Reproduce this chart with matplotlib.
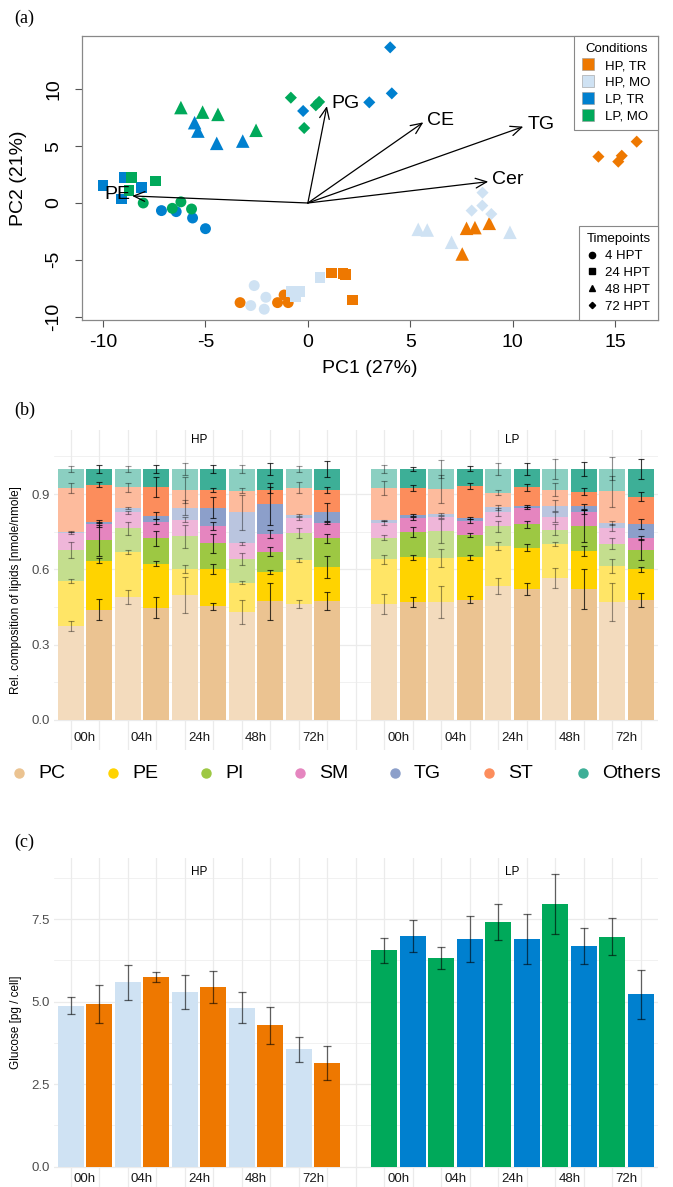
import numpy as np
import matplotlib
matplotlib.use('Agg')
import matplotlib.pyplot as plt
from matplotlib.lines import Line2D
from matplotlib.colors import to_rgb

plt.rcParams['font.family'] = ['Liberation Sans', 'DejaVu Sans']
plt.rcParams['axes.unicode_minus'] = False

W, H = 673, 1187

# ---------------- (a) PCA biplot ----------------
cond_names = ['HP, TR', 'HP, MO', 'LP, TR', 'LP, MO']
cond_colors = ['#EE7800', '#CFE2F3', '#0080CF', '#00A95A']
tp_names = ['4 HPT', '24 HPT', '48 HPT', '72 HPT']
tp_markers = ['o', 's', '^', 'D']
tp_sizes = [62, 58, 95, 38]

# one group per condition x timepoint
group_cond = ['HP, TR', 'HP, MO', 'HP, TR', 'HP, MO', 'HP, TR', 'HP, MO', 'HP, TR', 'HP, MO',
              'LP, TR', 'LP, MO', 'LP, TR', 'LP, MO', 'LP, TR', 'LP, MO', 'LP, TR', 'LP, MO']
group_tp = ['4 HPT', '4 HPT', '24 HPT', '24 HPT', '48 HPT', '48 HPT', '72 HPT', '72 HPT',
            '4 HPT', '4 HPT', '24 HPT', '24 HPT', '48 HPT', '48 HPT', '72 HPT', '72 HPT']
group_pc1 = [[-3.31, -1.48, -0.96, -1.16], [-2.62, -2.79, -2.05, -2.13],
             [1.16, 1.72, 1.85, 2.19], [-0.83, -0.42, -0.59, 0.59],
             [7.75, 8.16, 8.86, 7.54], [5.39, 5.83, 7.02, 9.87],
             [16.06, 14.19, 15.33, 15.16], [8.53, 8.52, 8.0, 8.96],
             [-7.15, -6.43, -5.63, -5.0], [-8.04, -6.2, -6.62, -5.68],
             [-10.0, -8.96, -8.12, -9.1], [-8.6, -8.74, -7.44],
             [-5.53, -5.37, -4.45, -3.18], [-6.2, -5.14, -4.39, -2.53],
             [-0.23, 4.02, 4.1, 3.0], [-0.83, 0.55, 0.39, -0.18]]
group_pc2 = [[-8.77, -8.77, -8.77, -8.1], [-7.27, -9.03, -8.3, -9.35],
             [-6.18, -6.22, -6.3, -8.53], [-7.8, -7.8, -8.24, -6.57],
             [-2.23, -2.17, -1.79, -4.49], [-2.32, -2.38, -3.46, -2.58],
             [5.4, 4.08, 4.16, 3.64], [0.91, -0.23, -0.67, -0.97],
             [-0.67, -0.76, -1.32, -2.26], [0.0, 0.1, -0.47, -0.53],
             [1.52, 2.23, 1.38, 0.35], [2.26, 1.08, 1.94],
             [7.07, 6.33, 5.25, 5.45], [8.4, 8.0, 7.8, 6.4],
             [8.1, 13.7, 9.65, 8.86], [9.27, 8.9, 8.6, 6.6]]

load_names = ['PE', 'PG', 'CE', 'TG', 'Cer']
load_pc1 = [-8.58, 0.93, 5.64, 10.52, 8.81]
load_pc2 = [0.62, 8.53, 7.10, 6.72, 1.88]

# ---------------- (b) lipid composition ----------------
lipid_classes = ['PC', 'PE', 'PI', 'SM', 'TG', 'ST', 'Others']
lipid_colors = ['#EBC391', '#FFD300', '#9DC843', '#E585BF', '#8C9FCA', '#FC8D5C', '#3DAF97']
time_labels = ['00h', '04h', '24h', '48h', '72h']

# rows = lipid class, columns = bars (00h MO, 00h TR, 04h MO, 04h TR, ...)
comp_hp = [[0.375, 0.440, 0.490, 0.447, 0.498, 0.453, 0.430, 0.472, 0.463, 0.475],
           [0.180, 0.195, 0.180, 0.176, 0.104, 0.149, 0.117, 0.117, 0.174, 0.134],
           [0.123, 0.080, 0.094, 0.101, 0.130, 0.102, 0.095, 0.081, 0.109, 0.115],
           [0.067, 0.065, 0.064, 0.066, 0.066, 0.068, 0.061, 0.071, 0.057, 0.059],
           [0.005, 0.010, 0.017, 0.024, 0.047, 0.074, 0.125, 0.118, 0.014, 0.044],
           [0.174, 0.147, 0.081, 0.115, 0.071, 0.070, 0.085, 0.058, 0.108, 0.089],
           [0.076, 0.063, 0.074, 0.071, 0.084, 0.084, 0.087, 0.083, 0.075, 0.084]]
err_hp = [[0.020, 0.043, 0.027, 0.041, 0.070, 0.013, 0.046, 0.074, 0.016, 0.036],
          [0.008, 0.011, 0.008, 0.011, 0.015, 0.021, 0.007, 0.008, 0.007, 0.044],
          [0.032, 0.060, 0.026, 0.030, 0.045, 0.037, 0.023, 0.018, 0.020, 0.018],
          [0.004, 0.010, 0.006, 0.009, 0.010, 0.016, 0.005, 0.016, 0.007, 0.004],
          [0.003, 0.005, 0.004, 0.013, 0.030, 0.042, 0.070, 0.084, 0.003, 0.036],
          [0.020, 0.011, 0.018, 0.040, 0.050, 0.007, 0.010, 0.012, 0.021, 0.012],
          [0.013, 0.016, 0.013, 0.017, 0.024, 0.016, 0.016, 0.024, 0.011, 0.031]]
comp_lp = [[0.462, 0.471, 0.469, 0.479, 0.535, 0.521, 0.566, 0.522, 0.471, 0.478],
           [0.178, 0.177, 0.177, 0.169, 0.158, 0.166, 0.135, 0.150, 0.142, 0.122],
           [0.086, 0.100, 0.105, 0.088, 0.079, 0.093, 0.057, 0.100, 0.089, 0.079],
           [0.058, 0.055, 0.058, 0.056, 0.056, 0.064, 0.050, 0.057, 0.064, 0.046],
           [0.011, 0.012, 0.012, 0.012, 0.020, 0.010, 0.046, 0.023, 0.019, 0.054],
           [0.130, 0.110, 0.100, 0.127, 0.058, 0.073, 0.063, 0.058, 0.126, 0.111],
           [0.075, 0.075, 0.079, 0.069, 0.094, 0.073, 0.083, 0.090, 0.089, 0.110]]
err_lp = [[0.038, 0.020, 0.064, 0.013, 0.032, 0.023, 0.040, 0.078, 0.076, 0.027],
          [0.018, 0.009, 0.035, 0.009, 0.017, 0.013, 0.009, 0.020, 0.028, 0.010],
          [0.009, 0.020, 0.048, 0.007, 0.022, 0.014, 0.022, 0.064, 0.022, 0.040],
          [0.008, 0.006, 0.005, 0.009, 0.017, 0.003, 0.021, 0.008, 0.013, 0.008],
          [0.003, 0.004, 0.005, 0.004, 0.010, 0.004, 0.022, 0.010, 0.008, 0.020],
          [0.028, 0.011, 0.056, 0.012, 0.010, 0.013, 0.025, 0.013, 0.062, 0.018],
          [0.016, 0.009, 0.036, 0.010, 0.024, 0.023, 0.040, 0.028, 0.046, 0.039]]

# ---------------- (c) glucose ----------------
gluc_hp_mo = [4.87, 5.58, 5.29, 4.82, 3.55]
gluc_hp_mo_err = [0.26, 0.52, 0.52, 0.46, 0.39]
gluc_hp_tr = [4.92, 5.75, 5.45, 4.28, 3.14]
gluc_hp_tr_err = [0.57, 0.16, 0.49, 0.57, 0.52]
gluc_lp_mo = [6.55, 6.32, 7.42, 7.97, 6.97]
gluc_lp_mo_err = [0.39, 0.32, 0.55, 0.91, 0.57]
gluc_lp_tr = [6.99, 6.90, 6.90, 6.69, 5.22]
gluc_lp_tr_err = [0.48, 0.69, 0.76, 0.54, 0.74]


def lighten(c, a):
    r = np.array(to_rgb(c))
    return tuple(a * r + (1 - a) * np.ones(3))


def fbox(x0, y0, x1, y1):
    # pixel box -> figure fraction [left, bottom, width, height]
    return [x0 / W, 1 - y1 / H, (x1 - x0) / W, (y1 - y0) / H]


fig = plt.figure(figsize=(W / 100, H / 100), dpi=100)

# ===== panel (a) =====
ax = fig.add_axes(fbox(82, 36, 658, 320))
for cnd, tp, xs, ys in zip(group_cond, group_tp, group_pc1, group_pc2):
    ci = cond_names.index(cnd)
    ti = tp_names.index(tp)
    ax.scatter(xs, ys, marker=tp_markers[ti], s=tp_sizes[ti], color=cond_colors[ci],
               edgecolors='none', zorder=2)

for name, lx, ly in zip(load_names, load_pc1, load_pc2):
    ax.annotate('', xy=(lx, ly), xytext=(0, 0),
                arrowprops=dict(arrowstyle='->,head_length=0.8,head_width=0.35', lw=0.9,
                                color='black', shrinkA=0, shrinkB=0, mutation_scale=10),
                zorder=3)
    if lx < 0:
        ax.text(lx - 0.1, ly + 0.1, name, ha='right', va='center', fontsize=14, zorder=4)
    else:
        ax.text(lx + 0.2, ly + 0.2, name, ha='left', va='center', fontsize=14, zorder=4)

ax.set_xlim(-11.03, 17.1)
ax.set_ylim(-10.3, 14.7)
ax.set_xticks([-10, -5, 0, 5, 10, 15])
ax.set_yticks([-10, -5, 0, 5, 10])
ax.tick_params(labelsize=14, length=5, color='#555555')
ax.tick_params(axis='x', pad=5)
ax.tick_params(axis='y', pad=9)
for lab in ax.get_yticklabels():
    lab.set_rotation(90)
    lab.set_va('center')
for sp in ax.spines.values():
    sp.set_color('#888888')
    sp.set_linewidth(0.9)
ax.set_xlabel('PC1 (27%)', fontsize=14)
ax.set_ylabel('PC2 (21%)', fontsize=14)
ax.xaxis.set_label_coords(0.5, -(360 - 320) / 284)
ax.yaxis.set_label_coords((27 - 82) / 576, 0.5)

h_cond = [Line2D([], [], marker='s', ls='none', ms=8, color=c, mec='#999999', mew=0.4)
          for c in cond_colors]
leg1 = ax.legend(h_cond, cond_names, title='Conditions', loc='upper right',
                 bbox_to_anchor=(1, 1), borderaxespad=0, fontsize=9.5, title_fontsize=9.5,
                 fancybox=False, edgecolor='#888888', framealpha=1, labelspacing=0.35,
                 handlelength=1.0, handletextpad=0.8, borderpad=0.55)
leg1.get_frame().set_linewidth(0.8)
ax.add_artist(leg1)
h_tp = [Line2D([], [], marker=m, ls='none', ms=s, color='black')
        for m, s in zip(tp_markers, [4.5, 4, 5, 3.2])]
leg2 = ax.legend(h_tp, tp_names, title='Timepoints', loc='lower right',
                 bbox_to_anchor=(1, 0), borderaxespad=0, fontsize=9.5, title_fontsize=9.5,
                 fancybox=False, edgecolor='#888888', framealpha=1, labelspacing=0.35,
                 handlelength=0.8, handletextpad=0.6, borderpad=0.55)
leg2.get_frame().set_linewidth(0.8)

# ===== shared bits for (b) and (c) =====
x_hp = np.arange(1, 11)
x_lp = np.arange(12, 22)
lab_pos = [1.5, 3.5, 5.5, 7.5, 9.5, 12.5, 14.5, 16.5, 18.5, 20.5]
grid_c = '#EBEBEB'
tick_c = '#4D4D4D'


def minimal(ax, ymaj, ymin):
    for sp in ax.spines.values():
        sp.set_visible(False)
    ax.set_xticks([])
    ax.set_yticks(ymaj)
    ax.tick_params(axis='y', length=0, labelsize=9.5, labelcolor=tick_c, pad=3)
    for y in ymaj:
        ax.axhline(y, color=grid_c, lw=0.9, zorder=0)
    for y in ymin:
        ax.axhline(y, color=grid_c, lw=0.5, zorder=0)
    for x in range(1, 22):
        ax.axvline(x, color=grid_c, lw=0.9, zorder=0)
    ax.set_xlim(0.4, 21.6)


# ===== panel (b) =====
bx0 = 70.7 + 28.5 * (0.4 - 1)
bx1 = 70.7 + 28.5 * (21.6 - 1)
axb = fig.add_axes(fbox(bx0, 430, bx1, 750))
for xs, comp, err in [(x_hp, comp_hp, err_hp), (x_lp, comp_lp, err_lp)]:
    comp = np.array(comp)
    err = np.array(err)
    tops = np.cumsum(comp, axis=0)
    bots = tops - comp
    for k, col in enumerate(lipid_colors):
        cols = [lighten(col, 0.6) if j % 2 == 0 else col for j in range(10)]
        axb.bar(xs, comp[k], bottom=bots[k], width=0.9, color=cols, zorder=2)
    for k in range(len(lipid_classes)):
        for j in range(10):
            light = j % 2 == 0
            axb.errorbar(xs[j], tops[k, j], yerr=err[k, j], fmt='none',
                         ecolor='black', alpha=0.4 if light else 0.75,
                         elinewidth=0.8, capsize=2.3, capthick=0.8, zorder=3)
minimal(axb, [0, 0.3, 0.6, 0.9], [0.15, 0.45, 0.75, 1.05])
axb.set_yticklabels(['0.0', '0.3', '0.6', '0.9'])
axb.set_ylim(-0.1195, 1.155)
for x, t in zip(lab_pos, time_labels * 2):
    axb.text(x, -0.072, t, ha='center', va='center', fontsize=9.5, color='#1A1A1A')
axb.text(5.5, 1.115, 'HP', ha='center', va='center', fontsize=8.5)
axb.text(16.5, 1.115, 'LP', ha='center', va='center', fontsize=8.5)
axb.set_ylabel('Rel. composition of lipids [nmole/nmole]', fontsize=8.5)
axb.yaxis.set_label_coords((22 - bx0) / (bx1 - bx0), 0.5)

# legend row for (b)
axl = fig.add_axes(fbox(0, 760, W, 786))
axl.set_xlim(0, W)
axl.set_ylim(0, 1)
axl.axis('off')
dot_x = [19, 113, 206, 300, 395, 489, 583]
for dx, name, col in zip(dot_x, lipid_classes, lipid_colors):
    axl.plot(dx, 0.5, 'o', ms=6.5, color=col)
    axl.text(dx + 19, 0.5, name, ha='left', va='center', fontsize=14)

# ===== panel (c) =====
axc = fig.add_axes(fbox(bx0, 858, bx1, 1187))
axc.bar(x_hp[0::2], gluc_hp_mo, width=0.9, color='#CFE2F3', zorder=2)
axc.bar(x_hp[1::2], gluc_hp_tr, width=0.9, color='#EE7800', zorder=2)
axc.bar(x_lp[0::2], gluc_lp_mo, width=0.9, color='#00A95A', zorder=2)
axc.bar(x_lp[1::2], gluc_lp_tr, width=0.9, color='#0080CF', zorder=2)
for xs, vals, errs in [(x_hp[0::2], gluc_hp_mo, gluc_hp_mo_err),
                       (x_hp[1::2], gluc_hp_tr, gluc_hp_tr_err),
                       (x_lp[0::2], gluc_lp_mo, gluc_lp_mo_err),
                       (x_lp[1::2], gluc_lp_tr, gluc_lp_tr_err)]:
    axc.errorbar(xs, vals, yerr=errs, fmt='none', ecolor='black', alpha=0.6,
                 elinewidth=0.9, capsize=3, capthick=0.9, zorder=3)
minimal(axc, [0, 2.5, 5.0, 7.5], [1.25, 3.75, 6.25, 8.75])
axc.set_yticklabels(['0.0', '2.5', '5.0', '7.5'])
axc.set_ylim(-0.615, 9.35)
for x, t in zip(lab_pos, time_labels * 2):
    axc.text(x, -0.37, t, ha='center', va='center', fontsize=9.5, color='#1A1A1A')
axc.text(5.5, 8.94, 'HP', ha='center', va='center', fontsize=8.5)
axc.text(16.5, 8.94, 'LP', ha='center', va='center', fontsize=8.5)
axc.set_ylabel('Glucose [pg / cell]', fontsize=8.5)
axc.yaxis.set_label_coords((22 - bx0) / (bx1 - bx0), 0.5)

# panel letters
for lab, py in [('(a)', 18), ('(b)', 410), ('(c)', 842)]:
    fig.text(14 / W, 1 - py / H, lab, family=['Liberation Serif', 'DejaVu Serif'],
             fontsize=13, ha='left', va='center')

fig.savefig('out.png', dpi=100)
